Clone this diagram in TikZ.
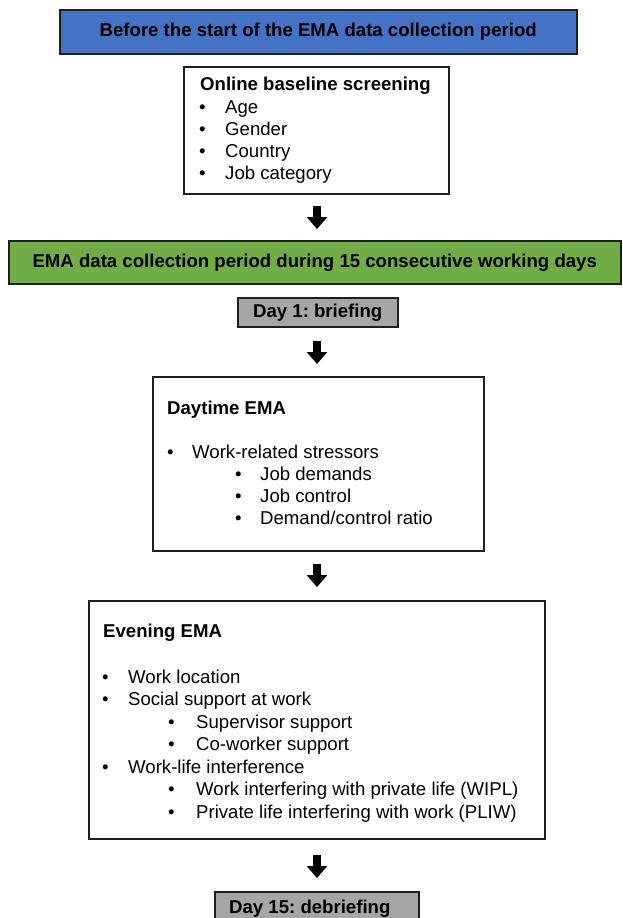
\documentclass[tikz,border=0pt]{standalone}
\usepackage{fontspec}
\setmainfont{Liberation Sans}
\usetikzlibrary{arrows.meta}
\definecolor{emablue}{HTML}{4472C4}
\definecolor{emagreen}{HTML}{70AD47}
\definecolor{emagray}{HTML}{A6A6A6}
\definecolor{edgecol}{HTML}{1E1E1E}
\newcommand{\fsz}{\fontsize{18.6}{22.3}\selectfont}
\frenchspacing
\begin{document}
\frenchspacing
\begin{tikzpicture}[x=1pt,y=-1pt,
  box/.style={draw=edgecol, line width=1.5pt, inner sep=0pt, anchor=north west, font=\fsz\bfseries},
  txt/.style={anchor=base west, inner sep=0pt, font=\fsz},
  ttl/.style={anchor=base west, inner sep=0pt, font=\fsz\bfseries},
  blk/.style={line width=8pt, draw=black, -{Triangle[width=20pt,length=12pt]}}]
\useasboundingbox (0,0) rectangle (622,918);
\clip (0,0) rectangle (622,918);
\fill[white] (0,0) rectangle (622,918);
\coordinate (ax) at (317,0);
% boxes
\node[box, fill=emablue, minimum width=517pt, minimum height=44pt] (blue) at (59,9) {Before the start of the EMA data collection period};
\node[box, fill=white, minimum width=265pt, minimum height=127pt] (online) at (183,66) {};
\node[box, fill=emagreen, minimum width=612pt, minimum height=43pt] (green) at (8,240) {EMA data collection period during 15 consecutive working days};
\node[box, fill=emagray, minimum width=160pt, minimum height=29pt] (day1) at (237,297) {Day 1: briefing};
\node[box, fill=white, minimum width=331pt, minimum height=174pt] (daytime) at (152,376) {};
\node[box, fill=white, minimum width=456pt, minimum height=238pt] (evening) at (88,600) {};
\node[box, fill=emagray, minimum width=204pt, minimum height=32pt] (day15) at (214,891) {};
\node[ttl] (day15t) at (229,913) {Day 15: debriefing};
% online baseline screening
\node[ttl] (o0) at (200,90) {Online baseline screening};
\node[txt] (ob1) at (199,113) {•}; \node[txt] (o1) at (225,113) {Age};
\node[txt] (ob2) at (199,135) {•}; \node[txt] (o2) at (225,135) {Gender};
\node[txt] (ob3) at (199,157) {•}; \node[txt] (o3) at (225,157) {Country};
\node[txt] (ob4) at (199,179) {•}; \node[txt] (o4) at (225,179) {Job category};
% daytime EMA
\node[ttl] (d0) at (167,414) {Daytime EMA};
\node[txt] (db1) at (167,458) {•}; \node[txt] (d1) at (192,458) {Work-related stressors};
\node[txt] (db2) at (235,480) {•}; \node[txt] (d2) at (260,480) {Job demands};
\node[txt] (db3) at (235,502) {•}; \node[txt] (d3) at (260,502) {Job control};
\node[txt] (db4) at (235,524) {•}; \node[txt] (d4) at (260,524) {Demand/control ratio};
% evening EMA
\node[ttl] (e0) at (103,637) {Evening EMA};
\node[txt] (eb1) at (102,683) {•}; \node[txt] (e1) at (128,683) {Work location};
\node[txt] (eb2) at (102,705) {•}; \node[txt] (e2) at (128,705) {Social support at work};
\node[txt] (eb3) at (168,728) {•}; \node[txt] (e3) at (196,728) {Supervisor support};
\node[txt] (eb4) at (168,750) {•}; \node[txt] (e4) at (196,750) {Co-worker support};
\node[txt] (eb5) at (102,773) {•}; \node[txt] (e5) at (128,773) {Work-life interference};
\node[txt] (eb6) at (168,795) {•}; \node[txt] (e6) at (196,795) {Work interfering with private life (WIPL)};
\node[txt] (eb7) at (168,818) {•}; \node[txt] (e7) at (196,818) {Private life interfering with work (PLIW)};
% arrows
\draw[blk, shorten <=11pt, shorten >=11pt] (online.south -| ax) -- (green.north -| ax);
\draw[blk, shorten <=13pt, shorten >=12pt] (day1.south -| ax) -- (daytime.north -| ax);
\draw[blk, shorten <=12pt, shorten >=13pt] (daytime.south -| ax) -- (evening.north -| ax);
\draw[blk, shorten <=15pt, shorten >=13pt] (evening.south -| ax) -- (day15.north -| ax);
\end{tikzpicture}
\end{document}
